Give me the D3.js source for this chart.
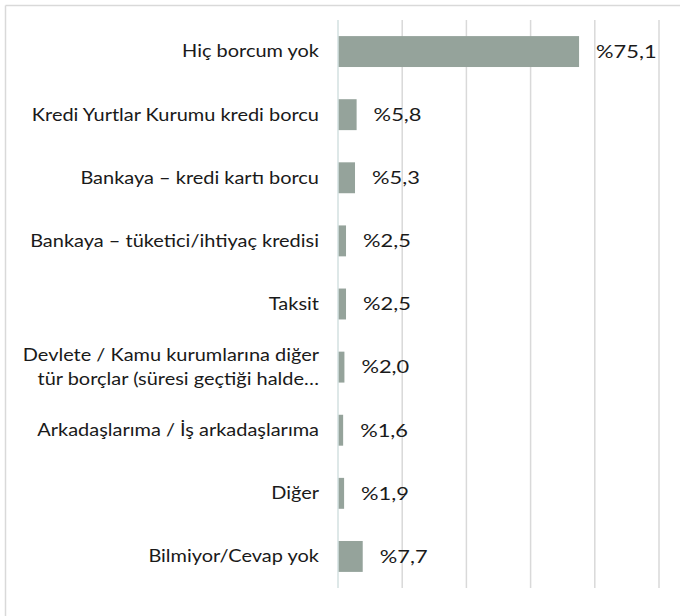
<!DOCTYPE html>
<html>
<head>
<meta charset="utf-8">
<script src="https://cdn.jsdelivr.net/npm/d3@7"></script>
<style>
  html, body { margin: 0; padding: 0; background: #fff; }
  svg { display: block; }
</style>
</head>
<body>
<svg id="chart" width="680" height="616"></svg>
<script>
const categories = [
  ["Hiç borcum yok"],
  ["Kredi Yurtlar Kurumu kredi borcu"],
  ["Bankaya – kredi kartı borcu"],
  ["Bankaya – tüketici/ihtiyaç kredisi"],
  ["Taksit"],
  ["Devlete / Kamu kurumlarına diğer", "tür borçlar (süresi geçtiği halde…"],
  ["Arkadaşlarıma / İş arkadaşlarıma"],
  ["Diğer"],
  ["Bilmiyor/Cevap yok"]
];
const values = [75.1, 5.8, 5.3, 2.5, 2.5, 2.0, 1.6, 1.9, 7.7];
const valueLabels = ["%75,1", "%5,8", "%5,3", "%2,5", "%2,5", "%2,0", "%1,6", "%1,9", "%7,7"];
const gridTicks = [20, 40, 60, 80, 100];

const svg = d3.select("#chart");
const font = "Lato, 'Open Sans', sans-serif";
const stretch = 1.21;

// chart frame (top and left edges visible)
svg.append("line").attr("x1", 5.5).attr("x2", 680).attr("y1", 5.5).attr("y2", 5.5)
  .attr("stroke", "#d9d9d9").attr("stroke-width", 1.5);
svg.append("line").attr("x1", 5.5).attr("x2", 5.5).attr("y1", 5.5).attr("y2", 616)
  .attr("stroke", "#d9d9d9").attr("stroke-width", 1.5);

const x = d3.scaleLinear().domain([0, 100]).range([338, 659]);
const y = d3.scaleBand().domain(d3.range(categories.length)).range([20, 588]).paddingInner(0.51).paddingOuter(0.255);

// gridlines
svg.append("g").selectAll("line").data(gridTicks).join("line")
  .attr("x1", d => x(d)).attr("x2", d => x(d))
  .attr("y1", 20).attr("y2", 588)
  .attr("stroke", "#d9d9d9").attr("stroke-width", 1.5);

// bars
svg.append("g").selectAll("rect").data(values).join("rect")
  .attr("x", x(0))
  .attr("y", (d, i) => y(i))
  .attr("width", d => x(d) - x(0))
  .attr("height", y.bandwidth())
  .attr("fill", "#95a39b");

// axis line
svg.append("line").attr("x1", x(0)).attr("x2", x(0)).attr("y1", 20).attr("y2", 588)
  .attr("stroke", "#d3e0e0").attr("stroke-width", 1.5);

// category labels
const labelG = svg.append("g");
categories.forEach((lines, i) => {
  const cy = y(i) + y.bandwidth() / 2;
  const t = labelG.append("text")
    .attr("transform", `translate(319,${cy}) scale(${stretch},1)`)
    .attr("text-anchor", "end")
    .attr("font-family", font)
    .attr("font-size", 16.5)
    .attr("fill", "#1a1a1a");
  const lh = 24.5;
  const off = -(lines.length - 1) * lh / 2;
  lines.forEach((ln, j) => {
    t.append("tspan").attr("x", 0).attr("y", off + j * lh).attr("dy", "0.36em").text(ln);
  });
});

// value labels
svg.append("g").selectAll("text").data(values).join("text")
  .attr("transform", (d, i) => `translate(${x(d) + 17},${y(i) + y.bandwidth() / 2}) scale(1.25,1)`)
  .attr("dy", "0.36em")
  .attr("font-family", font)
  .attr("font-size", 17.5)
  .attr("fill", "#1a1a1a")
  .text((d, i) => valueLabels[i]);
</script>
</body>
</html>
